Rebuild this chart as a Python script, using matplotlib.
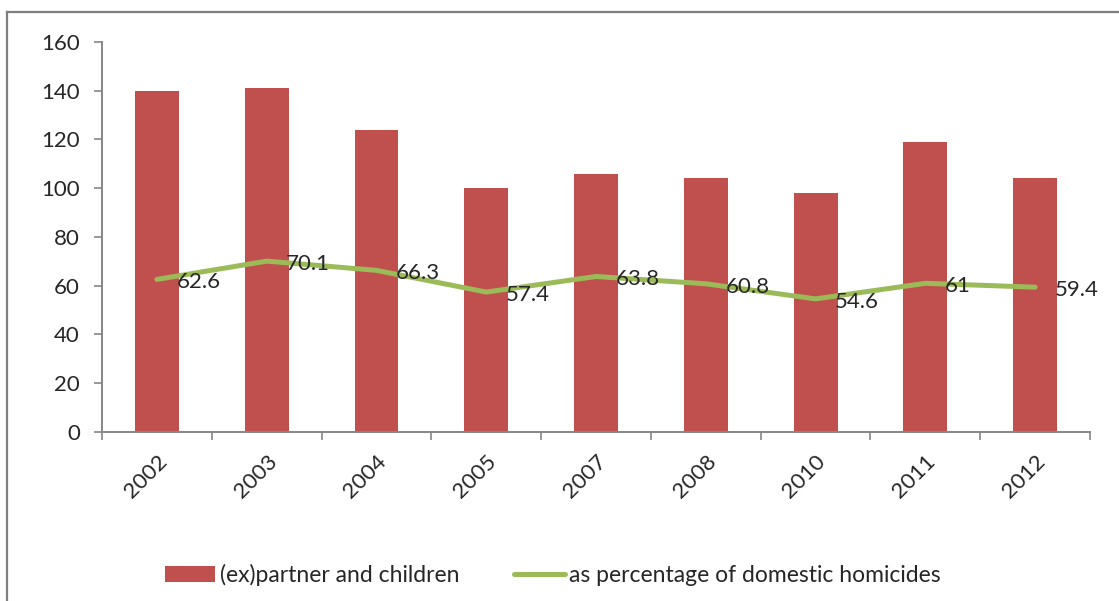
import numpy as np
import matplotlib
matplotlib.use("Agg")
import matplotlib.pyplot as plt
from matplotlib.lines import Line2D

plt.rcParams['font.family'] = ['Lato', 'DejaVu Sans']

# Data
years = ['2002', '2003', '2004', '2005', '2007', '2008', '2010', '2011', '2012']
partner_children = [140, 141, 124, 100, 106, 104, 98, 119, 104]
pct_domestic = [62.6, 70.1, 66.3, 57.4, 63.8, 60.8, 54.6, 61, 59.4]
pct_labels = ['62.6', '70.1', '66.3', '57.4', '63.8', '60.8', '54.6', '61', '59.4']

bar_color = '#C0504D'
line_color = '#9BBB59'
axis_color = '#868686'
text_color = '#262626'

fig = plt.figure(figsize=(11.19, 6.01), dpi=100)
ax = fig.add_axes([0.0912, 0.2812, 0.8829, 0.649])

x = np.arange(len(years))
bars = ax.bar(x, partner_children, width=0.4, color=bar_color,
              label='(ex)partner and children', zorder=2)
line, = ax.plot(x, pct_domestic, color=line_color, lw=3.6, solid_joinstyle='round',
                solid_capstyle='round', label='as percentage of domestic homicides', zorder=3)

# value labels to the right of each point
for xi, yi, lab in zip(x, pct_domestic, pct_labels):
    ax.annotate(lab, (xi, yi), xytext=(14, -2), textcoords='offset points',
                ha='left', va='center', fontsize=16, color=text_color, zorder=4)

ax.set_xlim(-0.5, len(years) - 0.5)
ax.set_ylim(0, 160)
ax.set_yticks(np.arange(0, 161, 20))

ax.set_xticks(x)
ax.set_xticklabels(years, rotation=45, ha='right', va='top', rotation_mode='anchor')
ax.set_xticks(np.arange(-0.5, len(years), 1), minor=True)
ax.tick_params(axis='x', which='major', length=0, pad=14, labelsize=16, labelcolor=text_color)
ax.tick_params(axis='x', which='minor', length=6, width=1.2, color=axis_color, direction='out')
ax.tick_params(axis='y', length=6, width=1.2, color=axis_color, pad=10,
               labelsize=16, labelcolor=text_color)

for side in ['top', 'right']:
    ax.spines[side].set_visible(False)
for side in ['left', 'bottom']:
    ax.spines[side].set_color(axis_color)
    ax.spines[side].set_linewidth(1.4)

fig.legend([bars, line], ['(ex)partner and children', 'as percentage of domestic homicides'],
           loc='center', bbox_to_anchor=(0.494, 0.043), ncol=2, frameon=False,
           fontsize=16.5, handlelength=2.2, handleheight=0.7, handletextpad=0.2,
           columnspacing=2.4, labelcolor=text_color)

# outer frame (top and left edges)
fig.add_artist(Line2D([7 / 1119, 7 / 1119], [0, 1 - 12 / 601], transform=fig.transFigure,
                      color='#7f7f7f', lw=1.6))
fig.add_artist(Line2D([7 / 1119, 1], [1 - 12 / 601, 1 - 12 / 601], transform=fig.transFigure,
                      color='#7f7f7f', lw=1.6))

fig.savefig('out.png', dpi=100)
